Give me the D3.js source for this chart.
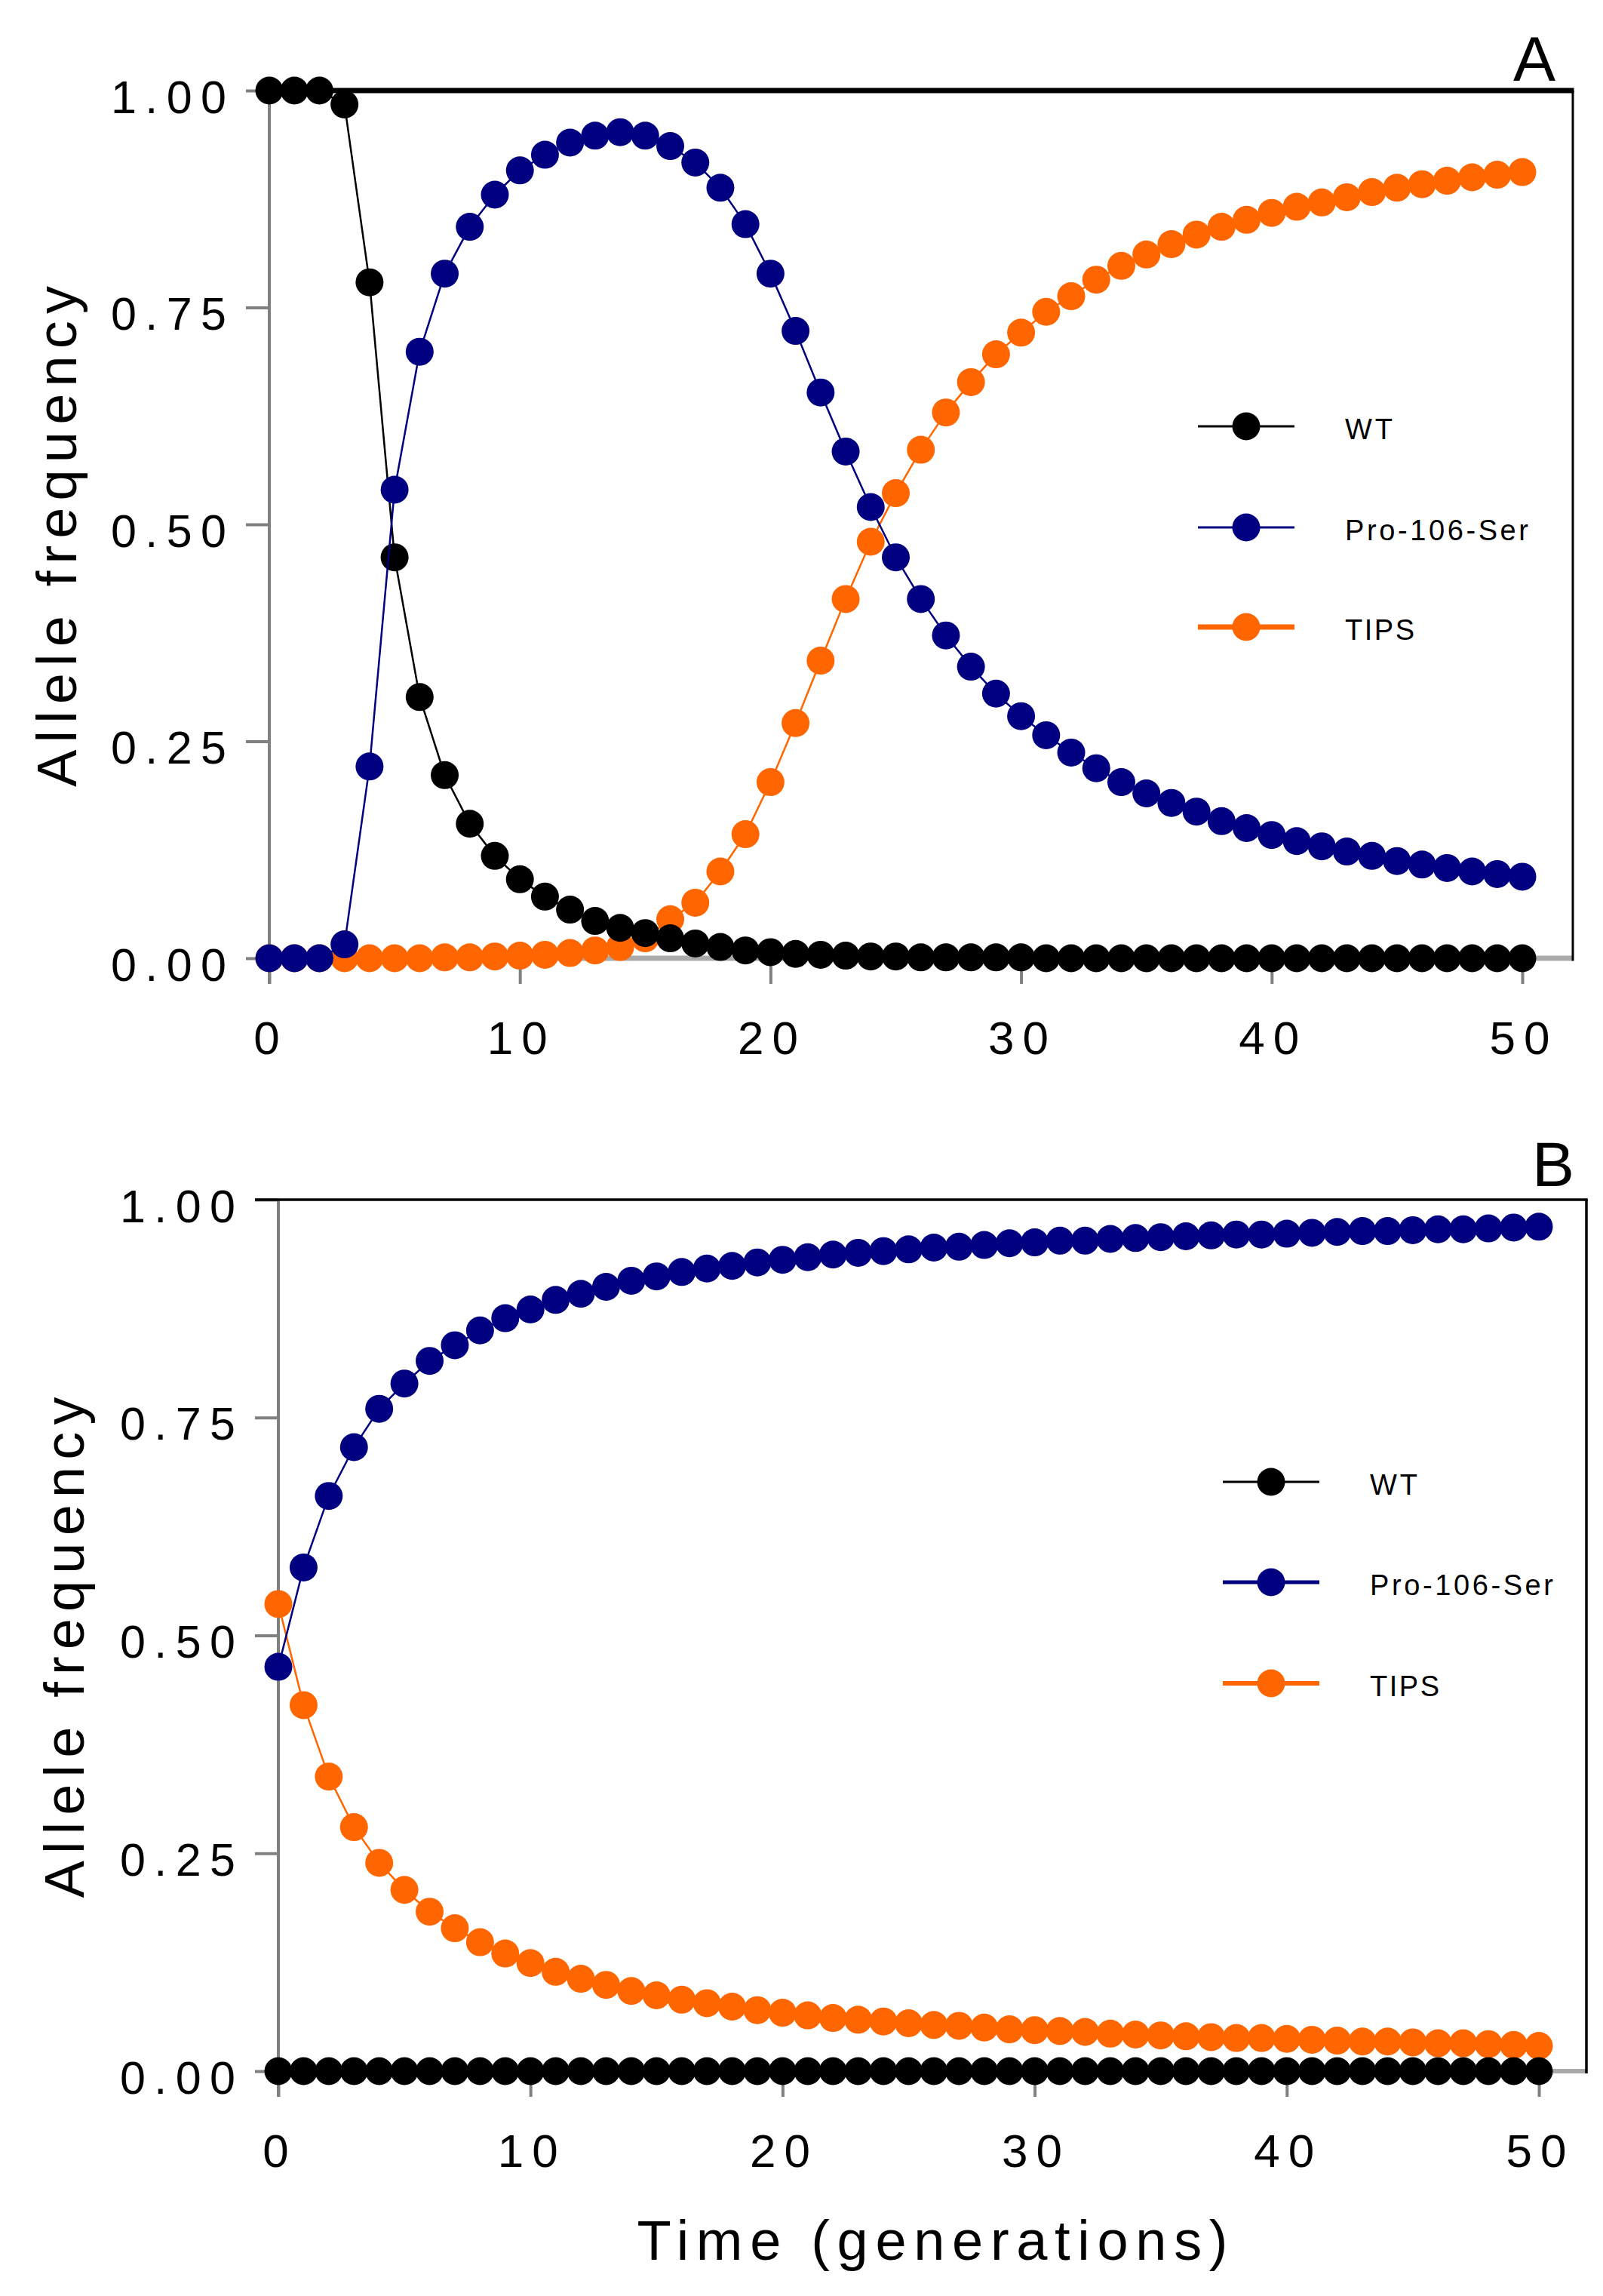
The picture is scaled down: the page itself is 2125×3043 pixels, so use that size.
<!DOCTYPE html>
<html><head><meta charset="utf-8">
<script src="https://cdn.jsdelivr.net/npm/d3@7"></script>
<style>body{margin:0;background:#fff}svg{display:block;background:#fff}</style>
</head><body>
<svg id="c" width="2125" height="3043"></svg>
<script>
// ---------- DATA ----------
const generations = [0,1,2,3,4,5,6,7,8,9,10,11,12,13,14,15,16,17,18,19,20,21,22,23,24,25,26,27,28,29,30,31,32,33,34,35,36,37,38,39,40,41,42,43,44,45,46,47,48,49,50];
const xTicks = [0,10,20,30,40,50];
const xTickLabels = ["0","10","20","30","40","50"];
const yTicks = [0,0.25,0.5,0.75,1];
const yTickLabels = ["0.00","0.25","0.50","0.75","1.00"];
const seriesNames = ["WT","Pro-106-Ser","TIPS"];
const seriesColors = ["#000000","#000080","#FF6600"];
const panelLabels = ["A","B"];
const yTitle = "Allele frequency";
const xTitle = "Time (generations)";

// Panel A
const wtA   = [1,1,1,0.984,0.779,0.462,0.301,0.211,0.155,0.118,0.091,0.071,0.056,0.043,0.035,0.029,0.023,0.017,0.013,0.009,0.007,0.005,0.004,0.003,0.002,0.002,0.001,0.001,0.001,0.001,0.001,0,0,0,0,0,0,0,0,0,0,0,0,0,0,0,0,0,0,0,0];
const proA  = [0,0,0,0.016,0.221,0.540,0.699,0.789,0.843,0.880,0.908,0.926,0.940,0.948,0.952,0.948,0.936,0.917,0.888,0.846,0.789,0.723,0.652,0.584,0.520,0.462,0.414,0.372,0.336,0.305,0.279,0.257,0.237,0.219,0.203,0.190,0.179,0.169,0.158,0.150,0.142,0.135,0.129,0.123,0.118,0.112,0.108,0.104,0.100,0.097,0.094];
const tipsA = [0,0,0,0,0,0,0,0.001,0.001,0.002,0.003,0.004,0.006,0.009,0.013,0.023,0.045,0.064,0.100,0.143,0.203,0.271,0.343,0.414,0.480,0.536,0.586,0.629,0.664,0.696,0.721,0.745,0.763,0.782,0.798,0.811,0.823,0.834,0.843,0.851,0.859,0.866,0.871,0.877,0.883,0.888,0.892,0.896,0.900,0.903,0.906];

// Panel B
const wtB   = [0,0,0,0,0,0,0,0,0,0,0,0,0,0,0,0,0,0,0,0,0,0,0,0,0,0,0,0,0,0,0,0,0,0,0,0,0,0,0,0,0,0,0,0,0,0,0,0,0,0,0];
const proB  = [0.464,0.578,0.660,0.716,0.760,0.789,0.815,0.833,0.850,0.864,0.874,0.885,0.892,0.900,0.907,0.912,0.917,0.921,0.924,0.928,0.931,0.934,0.937,0.939,0.941,0.943,0.945,0.946,0.948,0.950,0.951,0.953,0.953,0.955,0.956,0.957,0.958,0.959,0.960,0.960,0.961,0.962,0.963,0.964,0.964,0.965,0.966,0.966,0.967,0.968,0.969];
const tipsB = [0.536,0.420,0.338,0.280,0.239,0.208,0.183,0.164,0.148,0.135,0.124,0.114,0.106,0.099,0.092,0.087,0.082,0.078,0.074,0.070,0.067,0.064,0.061,0.059,0.057,0.055,0.053,0.052,0.050,0.048,0.047,0.046,0.045,0.043,0.042,0.041,0.040,0.039,0.038,0.038,0.037,0.036,0.035,0.034,0.034,0.033,0.032,0.032,0.031,0.030,0.029];

// ---------- LAYOUT ----------
const FONT = "'Liberation Sans', Arial, Helvetica, sans-serif";
const panels = [
  {label:panelLabels[0], data:[wtA,proA,tipsA], x0:357, x1:2018, yTop:120, yBot:1270, right:2085,
   topW:7, rightW:3, bottomW:7, topStart:357, labelX:2034, labelY:107,
   legX:1588, legY:[565,699,831], legW:[3,3,7], yTitleX:101},
  {label:panelLabels[1], data:[wtB,proB,tipsB], x0:369, x1:2040, yTop:1590, yBot:2745, right:2103,
   topW:3.5, rightW:3.5, bottomW:6, topStart:338, labelX:2059, labelY:1572,
   legX:1621, legY:[1964,2097,2231], legW:[3,5,6], yTitleX:111}
];
const AXIS_GREY = "#808080", BOTTOM_GREY = "#aaaaaa";
const R = 18.5, LINE_W = 2.5;
const drawOrder = [2,0,1];

const svg = d3.select("#c");

panels.forEach(p => {
  const x = d3.scaleLinear().domain([0,50]).range([p.x0, p.x1]);
  const y = d3.scaleLinear().domain([0,1]).range([p.yBot, p.yTop]);
  const g = svg.append("g");

  // y axis ticks + labels
  const yAx = g.append("g").attr("transform", `translate(${p.x0},0)`)
    .call(d3.axisLeft(y).tickValues(yTicks).tickSize(31).tickPadding(26)
      .tickFormat((d,i)=>yTickLabels[i]));
  yAx.select(".domain").remove();
  yAx.selectAll(".tick line").attr("stroke", AXIS_GREY).attr("stroke-width", 4);
  yAx.selectAll(".tick text").attr("font-family", FONT).attr("font-size", 61)
    .attr("fill", "#000").attr("dy", null).attr("y", 29)
    .attr("textLength", 153).attr("lengthAdjust", "spacing");

  // x axis ticks + labels
  const xAx = g.append("g").attr("transform", `translate(0,${p.yBot})`)
    .call(d3.axisBottom(x).tickValues(xTicks).tickSize(34).tickPadding(0)
      .tickFormat((d,i)=>xTickLabels[i]));
  xAx.select(".domain").remove();
  xAx.selectAll(".tick line").attr("stroke", AXIS_GREY).attr("stroke-width", 4);
  xAx.selectAll(".tick text").attr("font-family", FONT).attr("font-size", 62)
    .attr("fill", "#000").attr("dy", null).attr("y", 127).attr("x", -4)
    .each(function(d,i){ if (xTickLabels[i].length > 1) d3.select(this).attr("textLength", 80).attr("lengthAdjust","spacing"); });

  // axis lines and frame
  g.append("line").attr("x1", p.x0).attr("x2", p.x0).attr("y1", p.yTop).attr("y2", p.yBot + 34)
    .attr("stroke", AXIS_GREY).attr("stroke-width", 4);
  g.append("line").attr("x1", p.x0).attr("x2", p.right).attr("y1", p.yBot).attr("y2", p.yBot)
    .attr("stroke", BOTTOM_GREY).attr("stroke-width", p.bottomW);
  g.append("line").attr("x1", p.topStart).attr("x2", p.right + p.rightW/2).attr("y1", p.yTop).attr("y2", p.yTop)
    .attr("stroke", "#000").attr("stroke-width", p.topW);
  g.append("line").attr("x1", p.right).attr("x2", p.right).attr("y1", p.yTop).attr("y2", p.yBot + p.bottomW/2)
    .attr("stroke", "#000").attr("stroke-width", p.rightW);

  // series
  const line = d3.line().x((d,i)=>x(generations[i])).y(d=>y(d));
  drawOrder.forEach(si => {
    const vals = p.data[si];
    const sg = g.append("g");
    sg.append("path").datum(vals).attr("d", line).attr("fill","none")
      .attr("stroke", seriesColors[si]).attr("stroke-width", LINE_W);
    sg.selectAll("circle").data(vals).join("circle")
      .attr("cx", (d,i)=>x(generations[i])).attr("cy", d=>y(d)).attr("r", R)
      .attr("fill", seriesColors[si]);
  });

  // legend
  seriesNames.forEach((name, si) => {
    const ly = p.legY[si];
    const lg = g.append("g");
    lg.append("line").attr("x1", p.legX).attr("x2", p.legX + 128).attr("y1", ly).attr("y2", ly)
      .attr("stroke", seriesColors[si]).attr("stroke-width", p.legW[si]);
    lg.append("circle").attr("cx", p.legX + 64).attr("cy", ly).attr("r", R).attr("fill", seriesColors[si]);
    const tl = {"WT":63, "Pro-106-Ser":243, "TIPS":92}[name];
    lg.append("text").attr("x", p.legX + 195).attr("y", ly + 17).text(name)
      .attr("font-family", FONT).attr("font-size", 38).attr("fill", "#000")
      .attr("textLength", tl).attr("lengthAdjust", "spacing");
  });

  // panel label
  g.append("text").attr("x", p.labelX).attr("y", p.labelY).attr("text-anchor","middle")
    .attr("font-family", FONT).attr("font-size", 84).attr("fill","#000").text(p.label);

  // y title
  const cy = (p.yTop + p.yBot) / 2 + 16;
  g.append("text").attr("transform", `translate(${p.yTitleX},${cy}) rotate(-90)`)
    .attr("text-anchor","middle").attr("font-family", FONT).attr("font-size", 74).attr("fill","#000")
    .attr("textLength", 664).attr("lengthAdjust","spacing").text(yTitle);
});

// x title (bottom panel only)
svg.append("text").attr("x", 1236).attr("y", 2995).attr("text-anchor","middle")
  .attr("font-family", FONT).attr("font-size", 74).attr("fill","#000")
  .attr("textLength", 783).attr("lengthAdjust","spacing").text(xTitle);
</script>
</body></html>
